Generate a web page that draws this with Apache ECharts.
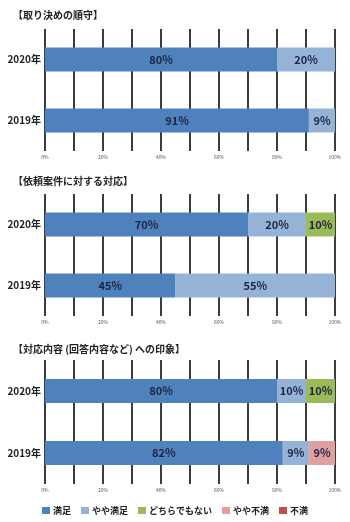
<!DOCTYPE html>
<html>
<head>
<meta charset="utf-8">
<script src="https://cdn.jsdelivr.net/npm/echarts@6/dist/echarts.min.js"></script>
<style>
  html, body { margin: 0; padding: 0; background: #fff; }
  #chart { width: 350px; height: 522px; }
</style>
</head>
<body>
<div id="chart"></div>
<script>
// Survey results: three stacked 100% bar panels
const years = ['2019年', '2020年'];
const levels = ['満足', 'やや満足', 'どちらでもない', 'やや不満', '不満'];
const panelTitles = ['【取り決めの順守】', '【依頼案件に対する対応】', '【対応内容 (回答内容など) への印象】'];
const xTicks = [0, 20, 40, 60, 80, 100];

// values per level, ordered [2019, 2020]
const compliance = {
  '満足': [91, 80], 'やや満足': [9, 20], 'どちらでもない': [0, 0], 'やや不満': [0, 0], '不満': [0, 0]
};
const requestHandling = {
  '満足': [45, 70], 'やや満足': [55, 20], 'どちらでもない': [0, 10], 'やや不満': [0, 0], '不満': [0, 0]
};
const responseImpression = {
  '満足': [82, 80], 'やや満足': [9, 10], 'どちらでもない': [0, 10], 'やや不満': [9, 0], '不満': [0, 0]
};

const panels = [compliance, requestHandling, responseImpression];
const colors = ['#4F81BD', '#95B3D7', '#9BBB59', '#E0A09E', '#C0504D'];
const font = '"Noto Sans CJK JP", sans-serif';

// plot width 290px so every 10% step lands on a whole pixel
const grids = [
  { left: 45, right: 15, top: 29, height: 122 },
  { left: 45, right: 15, top: 194, height: 122 },
  { left: 45, right: 15, top: 360, height: 124 }
];
const titleTops = [5, 171, 339];

const option = {
  animation: false,
  color: colors,
  textStyle: { fontFamily: font },
  title: panelTitles.map((t, i) => ({
    text: t, left: 8, top: titleTops[i],
    textStyle: { fontSize: 10, fontWeight: 'bold', color: '#222', fontFamily: font }
  })),
  legend: {
    data: levels, top: 501, left: 'center',
    itemWidth: 8, itemHeight: 7, itemGap: 10, icon: 'rect',
    textStyle: { fontSize: 9, fontWeight: 'bold', color: '#222', fontFamily: font, padding: [0, 0, 0, -2] }
  },
  grid: grids,
  xAxis: grids.map((g, i) => ({
    type: 'value', gridIndex: i, min: 0, max: 100, interval: 10,
    axisLine: { show: false }, axisTick: { show: false },
    axisLabel: {
      fontSize: 5, color: '#555', margin: 4,
      formatter: v => (xTicks.indexOf(v) >= 0 ? v + '%' : '')
    },
    splitLine: { show: true, lineStyle: { color: '#3c3c3c', width: 2 } }
  })),
  yAxis: grids.map((g, i) => ({
    type: 'category', gridIndex: i, data: years,
    axisLine: { show: false }, axisTick: { show: false },
    splitLine: { show: false },
    axisLabel: { fontSize: 10, fontWeight: 'bold', color: '#222', margin: 4 }
  })),
  series: []
};

panels.forEach((p, i) => {
  levels.forEach((lv, k) => {
    option.series.push({
      name: lv, type: 'bar', stack: 'p' + i,
      xAxisIndex: i, yAxisIndex: i,
      barWidth: 24,
      itemStyle: { color: colors[k] },
      label: {
        show: true, position: 'inside',
        fontSize: 11, fontWeight: 'bold', color: '#1c2340',
        formatter: d => (d.value > 0 ? d.value + '%' : '')
      },
      data: p[lv]
    });
  });
});

echarts.init(document.getElementById('chart')).setOption(option);
</script>
</body>
</html>
